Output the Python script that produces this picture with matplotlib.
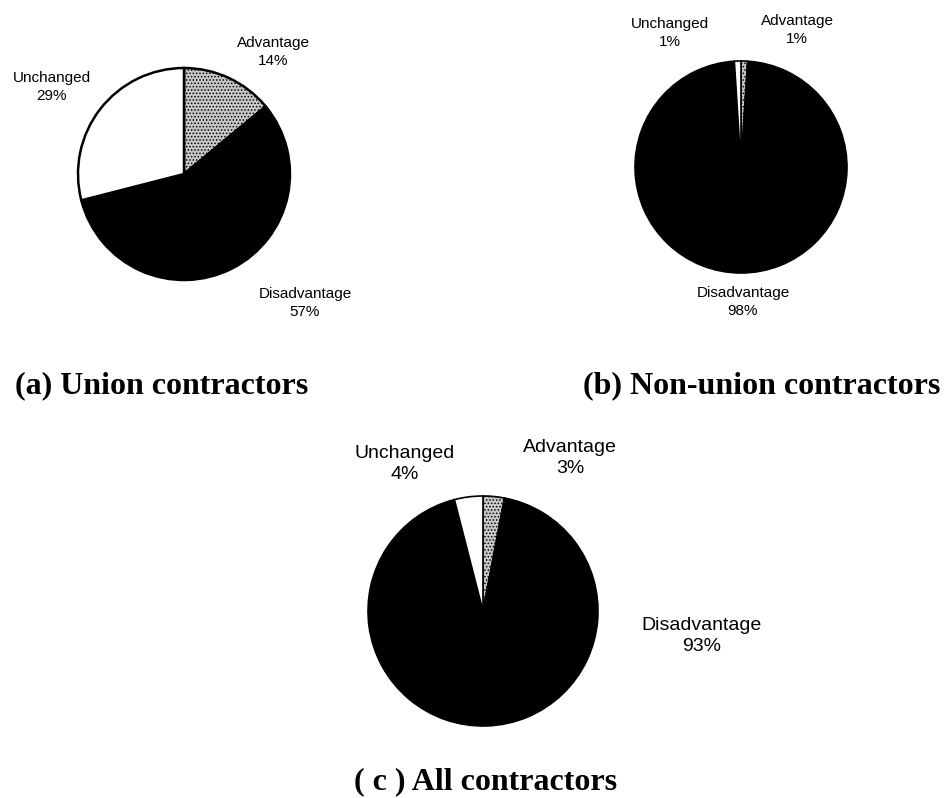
import matplotlib
matplotlib.use("Agg")
import matplotlib.pyplot as plt

W, H = 945, 798

categories = ["Advantage", "Disadvantage", "Unchanged"]
union_pct = [14, 57, 29]
nonunion_pct = [1, 98, 1]
all_pct = [3, 93, 4]
titles = ["(a) Union contractors", "(b) Non-union contractors", "( c ) All contractors"]

colors = ["#c8c8c8", "black", "white"]
hatches = [".....", None, None]

plt.rcParams["hatch.linewidth"] = 0.7


def add_pie(fig, values, cx, cy, r, label_pos, fontsize, lw=1.2):
    # cx, cy, r in pixels (y measured from top)
    ax = fig.add_axes([(cx - r) / W, (H - cy - r) / H, 2 * r / W, 2 * r / H])
    wedges, _ = ax.pie(values, colors=colors, startangle=90, counterclock=False,
                       wedgeprops=dict(edgecolor="black", linewidth=lw))
    for w, h in zip(wedges, hatches):
        if h:
            w.set_hatch(h)
    ax.set_xlim(-1, 1)
    ax.set_ylim(-1, 1)
    ax.axis("off")
    for name, val, (lx, ly) in zip(categories, values, label_pos):
        fig.text(lx / W, 1 - ly / H, f"{name}\n{val}%", ha="center", va="center",
                 fontsize=fontsize, family="Liberation Sans", linespacing=1.3)


fig = plt.figure(figsize=(W / 100, H / 100), dpi=100)

add_pie(fig, union_pct, 184, 174, 106,
        [(273, 52), (305, 303), (52, 87)], 11, lw=1.8)
add_pie(fig, nonunion_pct, 741, 167, 106,
        [(797, 30), (743, 302), (670, 33)], 11)
add_pie(fig, all_pct, 483, 611, 115,
        [(570, 458), (702, 636), (405, 464)], 14)

title_kw = dict(fontsize=23, family="Liberation Serif", weight="bold", va="center")
fig.text(15 / W, 1 - 386 / H, titles[0], ha="left", **title_kw)
fig.text(940 / W, 1 - 386 / H, titles[1], ha="right", **title_kw)
fig.text(486 / W, 1 - 782 / H, titles[2], ha="center", **title_kw)

fig.savefig("out.png", dpi=100, facecolor="white")
